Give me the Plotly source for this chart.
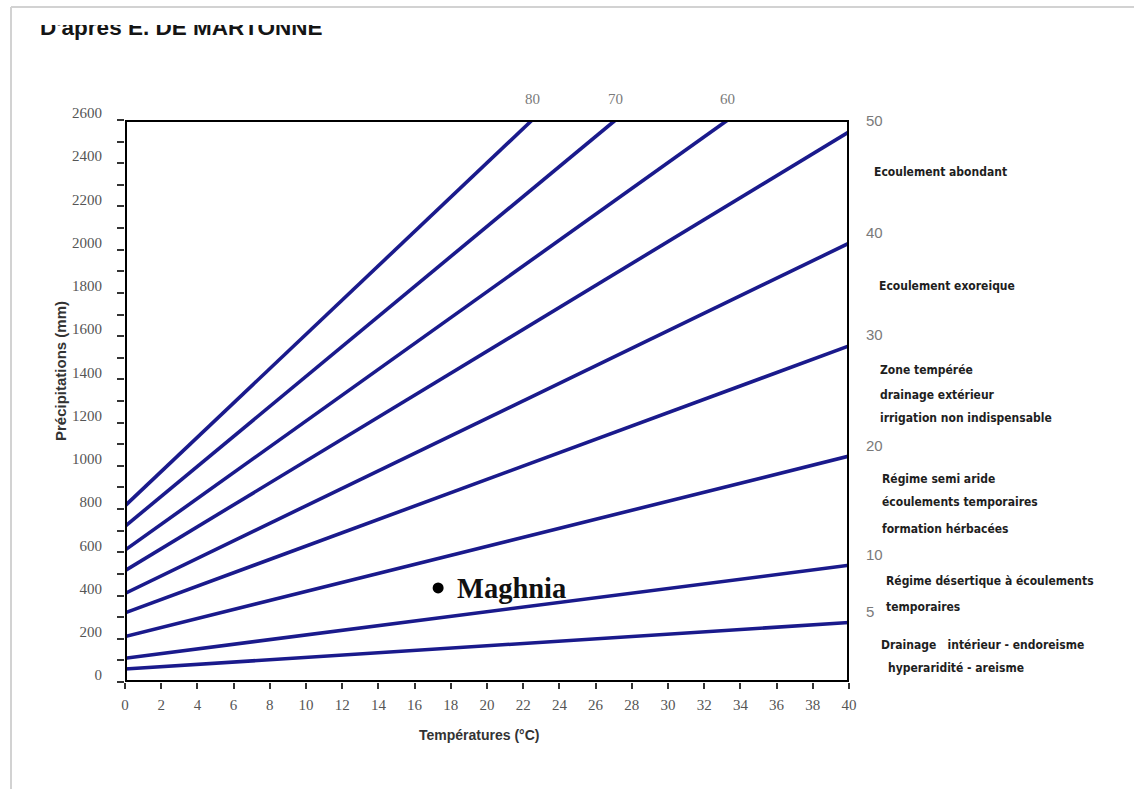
import plotly.graph_objects as go

# De Martonne aridity index lines: P = I (T + 10), read as segments
index_values = [5, 10, 20, 30, 40, 50, 60, 70, 80]
precip_at_zero = [60, 110, 210, 320, 410, 515, 610, 720, 815]
end_temp = [40, 40, 40, 40, 40, 40, 33.3, 27.1, 22.5]
end_precip = [275, 540, 1045, 1555, 2030, 2545, 2600, 2600, 2600]

# Station plotted on the diagram
station_name = "Maghnia"
station_temp = 17.3
station_precip = 435

# Climate regime descriptions along the right side
zone_texts = [
    "Ecoulement abondant",
    "Ecoulement exoreique",
    "Zone tempérée",
    "drainage extérieur",
    "irrigation non indispensable",
    "Régime semi aride",
    "écoulements temporaires",
    "formation hérbacées",
    "Régime désertique à écoulements",
    "temporaires",
    "Drainage\u00a0\u00a0\u00a0intérieur - endoreisme",
    "hyperaridité - areisme",
]

title_text = "D'après E. DE MARTONNE"
x_title = "Températures (°C)"
y_title = "Précipitations (mm)"

# ---------------------------------------------------------------- layout constants
W, H = 1134, 789
PLOT_L, PLOT_R, PLOT_T, PLOT_B = 125, 849, 120, 682
NAVY = "#1a1a8c"
TICK_FONT = dict(family="Liberation Serif, serif", size=15, color="#555555")
ZONE_FONT = dict(family="Liberation Sans Narrow, DejaVu Sans Condensed, sans-serif",
                 size=12, color="#1e1e1e", weight="bold")
zone_x_px = [872, 877, 878, 878, 878, 880, 880, 880, 884, 884, 879, 886]
zone_y_px = [172, 286, 370, 395, 418, 479, 502, 529, 581, 607, 645, 668]


def px_x(px):
    return px / W


def px_y(py):
    return 1 - py / H


fig = go.Figure()

for i, idx in enumerate(index_values):
    fig.add_trace(go.Scatter(
        x=[0, end_temp[i]], y=[precip_at_zero[i], end_precip[i]],
        mode="lines", line=dict(color=NAVY, width=3.6),
        name=f"I = {idx}", showlegend=False, hoverinfo="skip",
    ))

fig.add_trace(go.Scatter(
    x=[station_temp], y=[station_precip], mode="markers",
    marker=dict(color="black", size=11), showlegend=False, hoverinfo="skip",
))

# Title in its own small subplot so its upper part is clipped
fig.add_trace(go.Scatter(
    x=[40], y=[30.5], mode="text", text=[title_text], textposition="middle right",
    textfont=dict(family="Liberation Sans, Arial, sans-serif", size=22.5,
                  color="#151515", weight="bold"),
    xaxis="x2", yaxis="y2", cliponaxis=True, showlegend=False, hoverinfo="skip",
))

annotations = []

# index labels at the right-hand ends of the lines
for i, idx in enumerate(index_values):
    if end_temp[i] >= 40:
        annotations.append(dict(
            x=end_temp[i], y=end_precip[i], xref="x", yref="y", text=str(idx),
            showarrow=False, xanchor="left", yanchor="middle", xshift=15, yshift=11,
            font=dict(family="Liberation Sans, sans-serif", size=15, color="#7a7a7a"),
        ))
    else:
        annotations.append(dict(
            x=end_temp[i], y=end_precip[i], xref="x", yref="y", text=str(idx),
            showarrow=False, xanchor="center", yanchor="middle", yshift=21,
            font=dict(family="Liberation Serif, serif", size=15, color="#7a7a7a"),
        ))

for text, xp, yp in zip(zone_texts, zone_x_px, zone_y_px):
    annotations.append(dict(
        x=px_x(xp), y=px_y(yp), xref="paper", yref="paper", text=text,
        showarrow=False, xanchor="left", yanchor="middle", font=ZONE_FONT,
    ))

annotations.append(dict(
    x=station_temp, y=station_precip, xref="x", yref="y", text=station_name,
    showarrow=False, xanchor="left", yanchor="middle", xshift=17, yshift=-1,
    font=dict(family="Liberation Serif, Times New Roman, serif", size=28.5,
              color="#111111", weight="bold"),
))

annotations.append(dict(
    x=px_x(479), y=px_y(735), xref="paper", yref="paper", text=x_title,
    showarrow=False, xanchor="center", yanchor="middle",
    font=dict(family="Liberation Sans, sans-serif", size=14, color="#333333", weight="bold"),
))
annotations.append(dict(
    x=px_x(60), y=px_y(371), xref="paper", yref="paper", text=y_title,
    showarrow=False, xanchor="center", yanchor="middle", textangle=-90,
    font=dict(family="Liberation Sans, sans-serif", size=15, color="#333333", weight="bold"),
))

shapes = [
    # plot frame
    dict(type="rect", xref="x", yref="y", x0=0, x1=40, y0=0, y1=2600,
         line=dict(color="black", width=4), layer="above"),
    # page border
    dict(type="line", xref="paper", yref="paper", x0=px_x(11), x1=1, y0=px_y(7), y1=px_y(7),
         line=dict(color="#d2d2d2", width=2)),
    dict(type="line", xref="paper", yref="paper", x0=px_x(11), x1=px_x(11), y0=px_y(7), y1=0,
         line=dict(color="#d2d2d2", width=2)),
]

fig.update_layout(
    width=W, height=H,
    margin=dict(l=0, r=0, t=0, b=0),
    paper_bgcolor="white", plot_bgcolor="white",
    showlegend=False,
    annotations=annotations,
    shapes=shapes,
    xaxis=dict(
        domain=[px_x(PLOT_L), px_x(PLOT_R)], range=[0, 40], tick0=0, dtick=2,
        ticks="outside", ticklen=6, tickwidth=2, tickcolor="#333333",
        showline=False, showgrid=False, zeroline=False, tickfont=TICK_FONT,
        ticklabelstandoff=3, fixedrange=True, automargin=False,
    ),
    yaxis=dict(
        domain=[px_y(PLOT_B), px_y(PLOT_T)], range=[0, 2600], tick0=0, dtick=200,
        ticks="outside", ticklen=7, tickwidth=2, tickcolor="#333333",
        minor=dict(dtick=100, ticks="outside", ticklen=7, tickwidth=2, tickcolor="#333333"),
        showline=False, showgrid=False, zeroline=False, tickfont=TICK_FONT,
        ticklabelshift=-7, ticklabelstandoff=12, fixedrange=True, automargin=False,
    ),
    xaxis2=dict(domain=[0, 0.6], range=[0, 0.6 * W], anchor="y2", visible=False,
                fixedrange=True, automargin=False),
    yaxis2=dict(domain=[px_y(60), px_y(25)], range=[0, 35], anchor="x2", visible=False,
                fixedrange=True, automargin=False),
)

fig.write_html("out.html")
